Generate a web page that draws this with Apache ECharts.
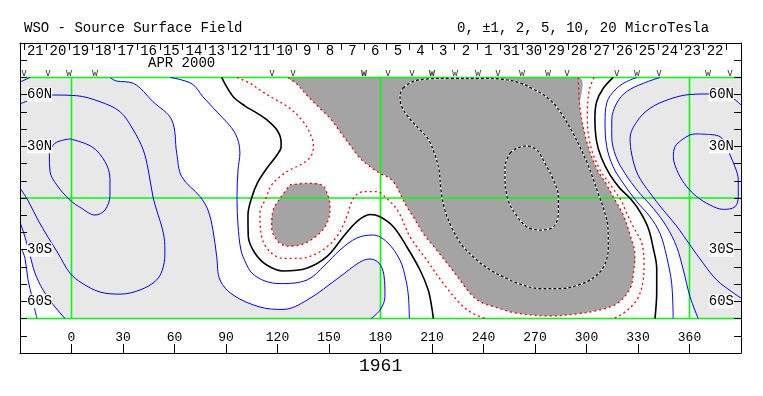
<!DOCTYPE html>
<html><head><meta charset="utf-8">
<script src="https://cdn.jsdelivr.net/npm/echarts@6/dist/echarts.min.js"></script>
<style>html,body{margin:0;padding:0;background:#fff}#c{width:763px;height:396px}</style>
</head><body><div id="c"></div>
<script>
// ---- tick labels / categories ----
const dayLabels = ['21','20','19','18','17','16','15','14','13','12','11','10','9','8','7','6','5','4','3','2','1','31','30','29','28','27','26','25','24','23','22'];
const lonLabels = [0,30,60,90,120,150,180,210,240,270,300,330,360];
const latLabels = {'60':'60N','30':'30N','-30':'30S','-60':'60S'};
const greenLat = [70, 0, -70];
const greenLon = [0, 180, 360];
const markerLon = [-27.7,-13.7,-1.5,13.7,116.8,129,170.4,184.4,198.4,210,223.4,236.8,248.4,262.4,277.6,288.6,317.7,329.4,342.2,370.8,383.6];
const markerType = ['v','v','w','w','v','v','W','v','v','W','w','w','v','w','w','v','v','w','v','w','v'];

// ---- contours [longitude, latitude] ----
const pos10West = [[-0.9,34.3],[-9.6,31.8],[-12.9,25],[-12.5,15.3],[-8.6,7.6],[-0.9,-1.2],[5.9,-6],[13.7,-9.9],[19.5,-7],[22.4,1.7],[22.4,11.4],[19.5,21.1],[11.8,29.8],[-0.9,34.3]];
const pos5West = [[-30,54.6],[-24.2,56.9],[-18.3,58.7],[-10.6,59.8],[3,59.4],[16.6,55.9],[28.3,50.1],[36,39.5],[41.8,27.9],[44.7,16.3],[47.6,0],[49.6,-7],[53.5,-20.3],[54.4,-30.2],[53.5,-39.9],[49.6,-47.6],[39.9,-53.4],[28.3,-55.8],[16.6,-54.6],[6.1,-49.4],[-0.9,-43.6],[-7.9,-32],[-13.7,-22.7],[-19.5,-12.8],[-25.5,-1.2],[-30,5.8]];
const pos2West = [[22.4,70],[25.9,68],[36,66.6],[47.5,55.9],[58.4,45.3],[61.3,26],[64.2,12.4],[74.9,0.8],[79.5,-7],[82.4,-18.6],[84.6,-34.1],[86.5,-47.6],[94.1,-56.3],[109.8,-63.3],[123.2,-64.7],[137.2,-59.3],[156.4,-45.7],[168,-37.2],[173.8,-35.4],[179.1,-37.8],[182,-44.7],[182.6,-57.3],[179.7,-65.1],[174.5,-70]];
const pos2WestLow = [[-30,-13.9],[-27.1,-22.7],[-24.2,-33.1],[-21.3,-43.6],[-16.6,-53.4],[-11.4,-61],[-3.8,-70]];
const pos2WestCorner = [[-30,67.3],[-24.2,70]];
const pos1WestLow = [[-28.8,-30.2],[-27.1,-34.9],[-25.3,-47.6],[-23,-57.5],[-21.3,-65.1],[-20.1,-70]];
const pos1West = [[57.4,70],[70.2,66.3],[76.6,58.7],[85.3,49.4],[95.2,37.8],[98.1,26.1],[97,16.3],[96.4,0],[97,-15.7],[98.7,-30.2],[101.6,-37.8],[105.1,-43.6],[112.7,-48.2],[121.5,-49.7],[137.2,-47.6],[147.7,-38.9],[156.4,-30.2],[166.3,-23.2],[175.6,-21.5],[183.8,-25.6],[191.3,-36],[194.8,-47.6],[196.3,-57.5],[196.8,-70]];
const zeroWest = [[87.5,70],[89.4,66.3],[94.2,58.8],[101.1,53.4],[106.9,50],[113.9,45.3],[119.7,39.5],[122.1,32.5],[122.1,29.6],[119.7,25],[113.9,17.4],[108.6,9.3],[105.1,0.6],[102.8,-9.9],[103,-22.5],[106.9,-32.1],[113.7,-38.9],[123.4,-42.4],[137,-40.8],[148.7,-34.1],[158.3,-22.5],[166.1,-13.8],[173.9,-9.6],[179.7,-10.9],[187.5,-16.7],[195.3,-28.3],[203,-41.8],[207.8,-53.4],[209.8,-63.1],[210.8,-70]];
const neg1West = [[96.4,70],[104,66.6],[109.8,62.7],[117.5,57.9],[127.2,52.1],[135,44.3],[138.9,37.6],[140.9,30.8],[139.9,25],[135,20.2],[127.2,16.3],[121.5,12.4],[116.6,7.6],[113.3,0],[109.8,-8.9],[110.8,-22.5],[115.6,-31.2],[123.4,-35],[133.1,-35],[144.7,-31.2],[154.5,-22.5],[160.3,-10.9],[164.2,-0.2],[170,3.7],[177.8,3.7],[183.6,-0.2],[190.2,-7.6],[197.2,-22.5],[206.9,-36],[216.6,-49.6],[226.3,-61.2],[233.3,-66.8],[240.9,-70]];
const neg2Island = [[127.2,7.6],[137,8.5],[145.7,7.6],[149.6,0.8],[150.6,-7],[147.7,-16.7],[140.9,-23.4],[133.1,-27.3],[125.4,-27.9],[119.5,-24.4],[116.6,-16.7],[117.5,-7],[121.5,-0.2],[127.2,7.6]];
const neg2Main = [[126.3,70],[131.2,66.3],[137,59.8],[144.7,52.1],[150.6,46.3],[156.4,38.5],[162.2,30.8],[168,23.2],[173.9,18.2],[179.7,14.3],[185.5,11.4],[189.4,6.6],[192.3,0.8],[195.3,-5.1],[199.1,-10.9],[204.9,-20.5],[212.7,-30.2],[220.4,-39.9],[226.3,-47.6],[232.1,-55.2],[237.9,-60.2],[246.6,-63.3],[258.9,-66.8],[278.7,-68.5],[293.3,-67.4],[307.3,-65.1],[318.3,-61],[325.4,-52.5],[327.2,-44.7],[328.2,-33.1],[325.4,-21.5],[321.4,-9.9],[316.6,-1.2],[311.8,7.6],[305.9,17.3],[300.1,32.7],[296.2,52.1],[295.2,70]];
const neg5 = [[193.1,63.9],[198.9,67.6],[207.1,69.1],[222.2,69.5],[238,69.5],[249.6,69.1],[261.3,66.8],[268.8,63.3],[275.8,59.3],[281.7,54],[286.3,47.6],[291.5,38.9],[296.2,29.6],[300.2,20.9],[303.7,11.6],[306.7,2.9],[310.2,-7],[312.5,-17.4],[312.7,-29],[310.2,-39.5],[303.7,-46.6],[294.4,-50.8],[284.5,-52.6],[272.9,-52.6],[261.3,-50],[253.1,-46.5],[244.9,-42.4],[236.8,-36.6],[227.4,-27.3],[221.6,-17.4],[217.5,-7],[215.2,4.6],[214.1,16.3],[211.7,25],[207.7,34.3],[201.9,40.7],[196.6,46.5],[192.2,53.4],[191.4,59.8],[193.1,63.9]];
const neg10 = [[255.4,26],[259.3,28.9],[265.2,30.2],[271,27.9],[275.8,20.2],[280.7,10.5],[283.6,0.8],[283.6,-8.9],[280.7,-16.7],[272.9,-18.6],[265.2,-16.7],[258.3,-8.9],[254.4,-1.2],[252.5,10.5],[252.5,18.2],[255.4,26]];
const neg1East = [[304.4,70],[301.6,62.7],[300.5,49.2],[302,31.8],[307.9,16.3],[314.7,6.6],[320.5,-2.1],[323.4,-8.9],[327.3,-16.7],[332.2,-26.3],[333.5,-37.9],[332.7,-49.6],[329.2,-59.3],[321.4,-67],[315.6,-70]];
const zeroEast = [[315.6,70],[309.8,63.7],[305.9,55.9],[304.9,46.3],[305.9,32.7],[308.8,23.1],[313.7,13.4],[319.5,5.6],[325.4,-0.2],[331.2,-8],[336,-17.6],[338.9,-29.2],[340.9,-40.8],[340.9,-54.4],[339.9,-70]];
const pos1East = [[329.4,70],[322.4,67.1],[316.6,62.7],[311.9,55.6],[310.8,43.6],[311.8,29.8],[315.5,18.2],[321.3,8.7],[329.3,-2.1],[337,-10.9],[342.8,-20.5],[346.7,-34.1],[349.6,-49.6],[350.5,-70]];
const pos2East = [[342.8,70],[333.1,66.6],[323.4,61.8],[317.6,55.1],[314.7,45.3],[314.7,35.6],[317.2,24],[322.4,14.3],[330.2,3.7],[338.9,-6],[346.7,-16.7],[352.5,-28.3],[356.4,-41.8],[360.3,-57.3],[365.1,-70]];
const pos5East = [[390,54],[383.6,58.7],[370.8,60.4],[360.3,60.1],[348.7,57.5],[337,52.1],[329.3,44.3],[325.4,34.7],[326.4,25],[330,13.4],[337,2.9],[344.7,-7],[352.5,-16.3],[360.3,-27.3],[368,-37.9],[375.8,-47.6],[384.6,-54.4],[390,-58.1]];
const pos10East = [[370.8,36.9],[377.8,35.6],[382.4,29.2],[383.6,25],[386.5,18.2],[388.4,10.5],[388.4,0.8],[386.5,-5.1],[379.7,-6.6],[372,-4.1],[364.2,0.8],[358.4,6.6],[353.5,14.3],[350.6,24],[351.6,29.8],[355.5,33.7],[360.3,36.6],[364.5,37.2],[370.8,36.9]];

// ---- derived regions ----
const LON_MIN = -30, LON_MAX = 390, LAT_MIN = -70, LAT_MAX = 70;
const lightWest = [pos2WestCorner[1]].concat(pos2West, pos2WestLow.slice().reverse(), [pos2WestCorner[0]]);
const lightEast = pos2East.concat([[LON_MAX, LAT_MIN],[LON_MAX, LAT_MAX]]);

const BLUE = '#0000ff', RED = '#ff0000', GREEN = '#00ff00', BLACK = '#000000';
const MONO = 'Liberation Mono';
const SM = 0.35;

function fill(points, color) {
  return {
    type: 'custom', coordinateSystem: 'cartesian2d', xAxisIndex: 0, yAxisIndex: 0,
    silent: true, z: 1, data: [[0, 0]],
    renderItem: function (params, api) {
      const a = api.coord([LON_MIN, LAT_MAX]), b = api.coord([LON_MAX, LAT_MIN]);
      return {
        type: 'polygon',
        shape: { points: points.map(p => api.coord(p)), smooth: SM, smoothConstraint: [[a[0], a[1]], [b[0], b[1]]] },
        style: { fill: color, stroke: null }
      };
    }
  };
}
function line(data, color, width, type, z) {
  return { type: 'line', data: data, symbol: 'none', smooth: SM, silent: true, xAxisIndex: 0, yAxisIndex: 0,
    lineStyle: { color: color, width: width, type: type || 'solid' }, z: z || 4 };
}
function dashedWB(data) {
  return [line(data, '#ffffff', 1.2, 'solid', 4), line(data, BLACK, 1.2, [3, 2], 5)];
}

const series = [
  fill(lightWest, '#e8e8e8'),
  fill(lightEast, '#e8e8e8'),
  fill(neg2Main, '#a4a4a4'),
  fill(neg2Island, '#a4a4a4')
];
greenLat.forEach(l => series.push(line([[LON_MIN, l], [LON_MAX, l]], GREEN, 1.6, 'solid', 3)));
greenLon.forEach(l => series.push(line([[l, LAT_MIN], [l, LAT_MAX]], GREEN, 1.6, 'solid', 3)));
[pos10West, pos5West, pos2West, pos2WestLow, pos2WestCorner, pos1WestLow, pos1West,
 pos1East, pos2East, pos5East, pos10East].forEach(d => series.push(line(d, BLUE, 1)));
[zeroWest, zeroEast].forEach(d => series.push(line(d, BLACK, 1.6)));
[neg1West, neg1East, neg2Island, neg2Main.slice(0)].forEach(d => series.push(line(d, RED, 1.3, [2, 3])));
series.push(...dashedWB(neg5), ...dashedWB(neg10));
series.push({
  type: 'scatter', xAxisIndex: 0, yAxisIndex: 0, silent: true, z: 6,
  symbolSize: 0,
  data: markerLon.map((lon, i) => ({ value: [lon, LAT_MAX], name: markerType[i].toLowerCase(),
    label: { fontWeight: markerType[i] === 'W' ? 'bold' : 'normal' } })),
  label: { show: true, position: 'top', distance: -1, formatter: '{b}', color: BLACK,
    fontFamily: 'DejaVu Sans Mono', fontSize: 10, lineHeight: 10 }
});

const latAxis = (pos) => ({
  type: 'value', gridIndex: 0, position: pos, min: -90, max: 90, interval: 30, z: 10,
  axisLine: { show: true, onZero: false, lineStyle: { color: BLACK, width: 1 } },
  axisTick: { show: true, inside: true, length: 7, lineStyle: { color: BLACK } },
  minorTick: { show: true, splitNumber: 3, length: 7, lineStyle: { color: BLACK } },
  splitLine: { show: false },
  axisLabel: { inside: true, margin: 7, showMinLabel: true, showMaxLabel: true,
    formatter: v => latLabels[String(v)] ? '{b|' + latLabels[String(v)] + '}' : '',
    rich: { b: { backgroundColor: '#ffffff', fontFamily: MONO, fontSize: 14, lineHeight: 10, color: BLACK, padding: [0, 0] } } }
});

const option = {
  animation: false,
  backgroundColor: '#ffffff',
  title: [
    { text: 'WSO - Source Surface Field', left: 24, top: 21, padding: 0, textStyle: { fontFamily: MONO, fontSize: 14, fontWeight: 'normal', color: BLACK } },
    { text: '0, ±1, 2, 5, 10, 20 MicroTesla', left: 457, top: 21, padding: 0, textStyle: { fontFamily: MONO, fontSize: 14, fontWeight: 'normal', color: BLACK } },
    { text: 'APR 2000', left: 148, top: 56, padding: 0, textStyle: { fontFamily: MONO, fontSize: 14, fontWeight: 'normal', color: BLACK } },
    { text: '1961', left: 359, top: 357, padding: 0, textStyle: { fontFamily: MONO, fontSize: 18, fontWeight: 'normal', color: BLACK } }
  ],
  grid: [
    { left: 20, right: 22, top: 43, bottom: 43, containLabel: false },
    { left: 24, right: 36.6, top: 43, height: 20, containLabel: false }
  ],
  xAxis: [
    { type: 'value', gridIndex: 0, position: 'bottom', min: LON_MIN, max: LON_MAX, interval: 30,
      axisLine: { show: true, onZero: false, lineStyle: { color: BLACK, width: 1 } },
      axisTick: { show: true, inside: true, length: 9, lineStyle: { color: BLACK } },
      splitLine: { show: false },
      axisLabel: { inside: true, margin: 9, fontFamily: MONO, fontSize: 13, color: BLACK,
        formatter: v => lonLabels.indexOf(v) >= 0 ? String(v) : '' } },
    { type: 'value', gridIndex: 0, position: 'top', min: LON_MIN, max: LON_MAX,
      axisLine: { show: true, onZero: false, lineStyle: { color: BLACK, width: 1 } },
      axisTick: { show: false }, axisLabel: { show: false }, splitLine: { show: false } },
    { type: 'category', gridIndex: 1, position: 'top', data: dayLabels, boundaryGap: true,
      axisLine: { show: true, onZero: false, lineStyle: { color: BLACK, width: 1 } },
      axisTick: { show: true, inside: true, length: 7, interval: 0, lineStyle: { color: BLACK } },
      axisLabel: { inside: true, interval: 0, margin: 1, fontFamily: MONO, fontSize: 14, color: BLACK },
      splitLine: { show: false } }
  ],
  yAxis: [
    latAxis('left'),
    latAxis('right'),
    { type: 'value', gridIndex: 1, show: false }
  ],
  series: series
};
const chart = echarts.init(document.getElementById('c'));
chart.setOption(option);
</script></body></html>
